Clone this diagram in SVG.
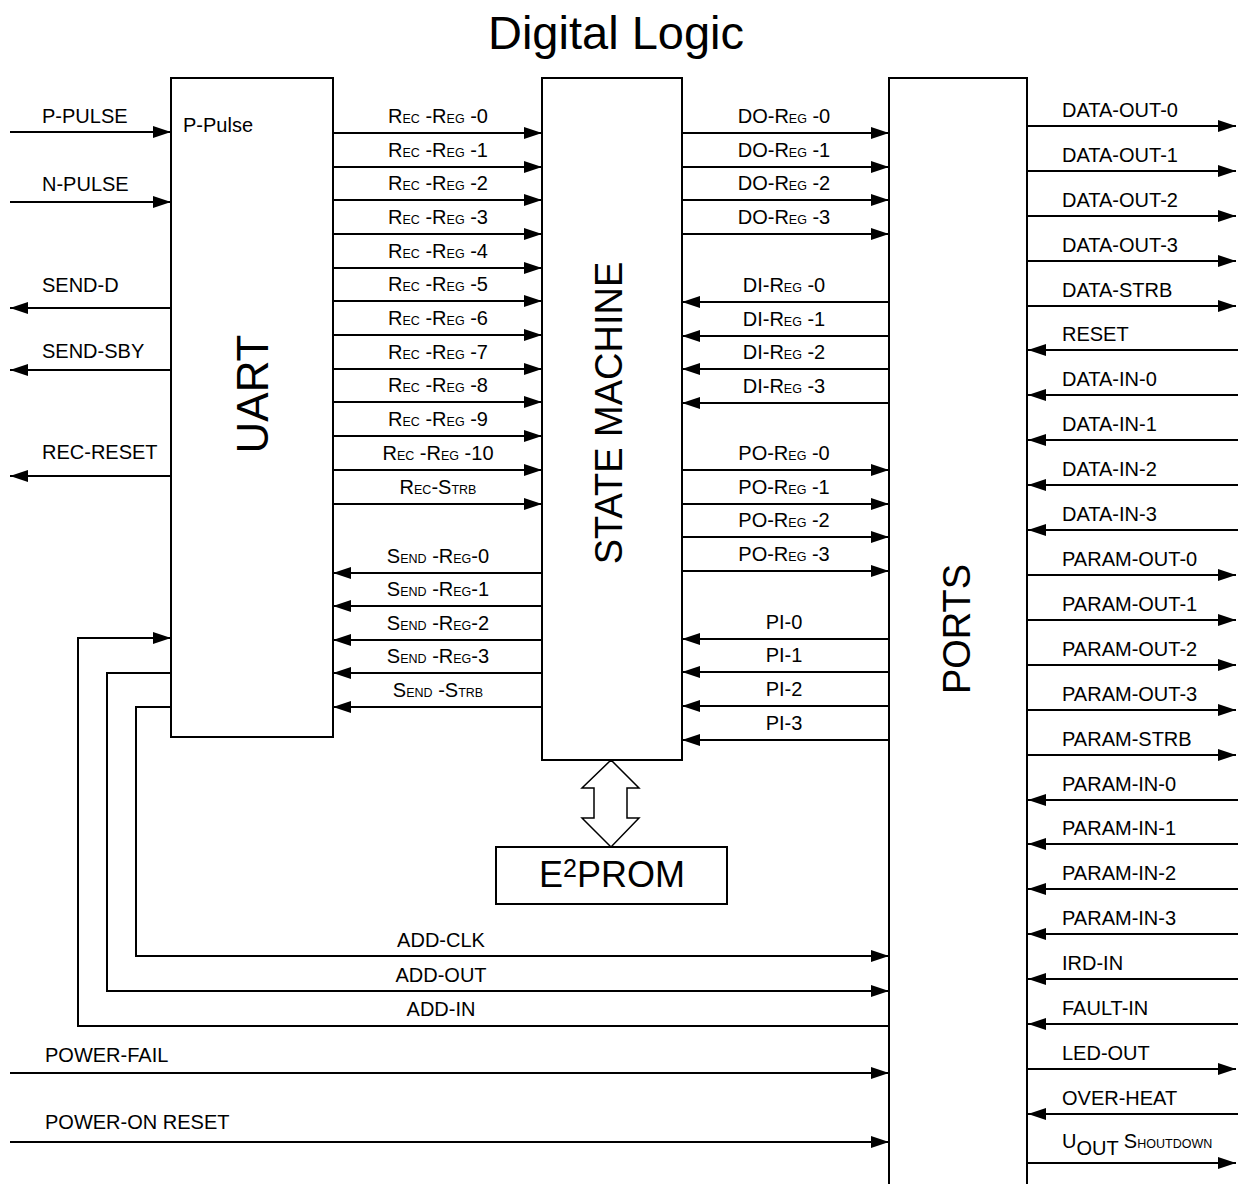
<svg xmlns="http://www.w3.org/2000/svg" width="1238" height="1184" viewBox="0 0 1238 1184">
<style>
text{font-family:"Liberation Sans",Arial,sans-serif;fill:#000}
.l{font-size:20px}
.s{font-size:12.5px}
.c{text-anchor:middle}
.box{fill:#fff;stroke:#000;stroke-width:2}
.w{fill:none;stroke:#000;stroke-width:2}
.a{fill:none;stroke:#000;stroke-width:2;marker-end:url(#ah)}
</style>
<defs>
<marker id="ah" markerUnits="userSpaceOnUse" markerWidth="19" markerHeight="12" refX="18" refY="6" orient="auto"><path d="M0,0 L18,6 L0,12 z" fill="#000"/></marker>
</defs>
<rect width="1238" height="1184" fill="#fff"/>
<text x="616" y="49" class="c" font-size="47">Digital Logic</text>

<g id="connectors">
<!-- UART left -->
<line class="a" x1="10" y1="132" x2="171" y2="132"/>
<line class="a" x1="10" y1="202" x2="171" y2="202"/>
<line class="a" x1="171" y1="308" x2="10" y2="308"/>
<line class="a" x1="171" y1="370" x2="10" y2="370"/>
<line class="a" x1="171" y1="476" x2="10" y2="476"/>
<!-- Rec regs -->
<line class="a" x1="333" y1="133" x2="542" y2="133"/>
<line class="a" x1="333" y1="167" x2="542" y2="167"/>
<line class="a" x1="333" y1="200" x2="542" y2="200"/>
<line class="a" x1="333" y1="234" x2="542" y2="234"/>
<line class="a" x1="333" y1="268" x2="542" y2="268"/>
<line class="a" x1="333" y1="301" x2="542" y2="301"/>
<line class="a" x1="333" y1="335" x2="542" y2="335"/>
<line class="a" x1="333" y1="369" x2="542" y2="369"/>
<line class="a" x1="333" y1="402" x2="542" y2="402"/>
<line class="a" x1="333" y1="436" x2="542" y2="436"/>
<line class="a" x1="333" y1="470" x2="542" y2="470"/>
<line class="a" x1="333" y1="504" x2="542" y2="504"/>
<!-- Send regs -->
<line class="a" x1="542" y1="573" x2="333" y2="573"/>
<line class="a" x1="542" y1="606" x2="333" y2="606"/>
<line class="a" x1="542" y1="640" x2="333" y2="640"/>
<line class="a" x1="542" y1="673" x2="333" y2="673"/>
<line class="a" x1="542" y1="707" x2="333" y2="707"/>
<!-- DO -->
<line class="a" x1="682" y1="133" x2="889" y2="133"/>
<line class="a" x1="682" y1="167" x2="889" y2="167"/>
<line class="a" x1="682" y1="200" x2="889" y2="200"/>
<line class="a" x1="682" y1="234" x2="889" y2="234"/>
<!-- DI -->
<line class="a" x1="889" y1="302" x2="682" y2="302"/>
<line class="a" x1="889" y1="336" x2="682" y2="336"/>
<line class="a" x1="889" y1="369" x2="682" y2="369"/>
<line class="a" x1="889" y1="403" x2="682" y2="403"/>
<!-- PO -->
<line class="a" x1="682" y1="470" x2="889" y2="470"/>
<line class="a" x1="682" y1="504" x2="889" y2="504"/>
<line class="a" x1="682" y1="537" x2="889" y2="537"/>
<line class="a" x1="682" y1="571" x2="889" y2="571"/>
<!-- PI -->
<line class="a" x1="889" y1="639" x2="682" y2="639"/>
<line class="a" x1="889" y1="672" x2="682" y2="672"/>
<line class="a" x1="889" y1="706" x2="682" y2="706"/>
<line class="a" x1="889" y1="740" x2="682" y2="740"/>
<!-- feedback -->
<polyline class="a" points="171,707 136,707 136,956 889,956"/>
<polyline class="a" points="171,673 107,673 107,991 889,991"/>
<polyline class="a" points="889,1026 78,1026 78,638 171,638"/>
<line class="a" x1="10" y1="1073" x2="889" y2="1073"/>
<line class="a" x1="10" y1="1142" x2="889" y2="1142"/>
<!-- right side -->
<line class="a" x1="1027" y1="126" x2="1236" y2="126"/>
<line class="a" x1="1027" y1="171" x2="1236" y2="171"/>
<line class="a" x1="1027" y1="216" x2="1236" y2="216"/>
<line class="a" x1="1027" y1="261" x2="1236" y2="261"/>
<line class="a" x1="1027" y1="306" x2="1236" y2="306"/>
<line class="a" x1="1238" y1="350" x2="1028" y2="350"/>
<line class="a" x1="1238" y1="395" x2="1028" y2="395"/>
<line class="a" x1="1238" y1="440" x2="1028" y2="440"/>
<line class="a" x1="1238" y1="485" x2="1028" y2="485"/>
<line class="a" x1="1238" y1="530" x2="1028" y2="530"/>
<line class="a" x1="1027" y1="575" x2="1236" y2="575"/>
<line class="a" x1="1027" y1="620" x2="1236" y2="620"/>
<line class="a" x1="1027" y1="665" x2="1236" y2="665"/>
<line class="a" x1="1027" y1="710" x2="1236" y2="710"/>
<line class="a" x1="1027" y1="755" x2="1236" y2="755"/>
<line class="a" x1="1238" y1="800" x2="1028" y2="800"/>
<line class="a" x1="1238" y1="844" x2="1028" y2="844"/>
<line class="a" x1="1238" y1="889" x2="1028" y2="889"/>
<line class="a" x1="1238" y1="934" x2="1028" y2="934"/>
<line class="a" x1="1238" y1="979" x2="1028" y2="979"/>
<line class="a" x1="1238" y1="1024" x2="1028" y2="1024"/>
<line class="a" x1="1027" y1="1069" x2="1236" y2="1069"/>
<line class="a" x1="1238" y1="1114" x2="1028" y2="1114"/>
<line class="a" x1="1027" y1="1163" x2="1236" y2="1163"/>
<!-- double arrow -->
<path d="M611,760 L639,788 L627,788 L627,818 L639,818 L611,847 L582,818 L594,818 L594,788 L582,788 Z" fill="#fff" stroke="#000" stroke-width="1.5"/>
</g>

<g id="uart">
<rect class="box" x="171" y="78" width="162" height="659"/>
<text class="l" x="183" y="132">P-Pulse</text>
<text transform="translate(268,394) rotate(-90)" class="c" font-size="44">UART</text>
</g>
<g id="state-machine">
<rect class="box" x="542" y="78" width="140" height="682"/>
<text transform="translate(622,413) rotate(-90)" class="c" font-size="38">STATE MACHINE</text>
</g>
<g id="ports">
<rect class="box" x="889" y="78" width="138" height="1130"/>
<text transform="translate(970,629) rotate(-90)" class="c" font-size="38">PORTS</text>
</g>
<g id="eeprom">
<rect class="box" x="496" y="847" width="231" height="57"/>
<text x="612" y="887" class="c" font-size="36">E<tspan font-size="25" dy="-10">2</tspan><tspan dy="10">PROM</tspan></text>
</g>

<g id="labels" class="l">
<text x="42" y="123">P-PULSE</text>
<text x="42" y="191">N-PULSE</text>
<text x="42" y="292">SEND-D</text>
<text x="42" y="358">SEND-SBY</text>
<text x="42" y="459">REC-RESET</text>

<g class="c">
<text x="438" y="123">R<tspan class="s">EC</tspan> -R<tspan class="s">EG</tspan> -0</text>
<text x="438" y="157">R<tspan class="s">EC</tspan> -R<tspan class="s">EG</tspan> -1</text>
<text x="438" y="190">R<tspan class="s">EC</tspan> -R<tspan class="s">EG</tspan> -2</text>
<text x="438" y="224">R<tspan class="s">EC</tspan> -R<tspan class="s">EG</tspan> -3</text>
<text x="438" y="258">R<tspan class="s">EC</tspan> -R<tspan class="s">EG</tspan> -4</text>
<text x="438" y="291">R<tspan class="s">EC</tspan> -R<tspan class="s">EG</tspan> -5</text>
<text x="438" y="325">R<tspan class="s">EC</tspan> -R<tspan class="s">EG</tspan> -6</text>
<text x="438" y="359">R<tspan class="s">EC</tspan> -R<tspan class="s">EG</tspan> -7</text>
<text x="438" y="392">R<tspan class="s">EC</tspan> -R<tspan class="s">EG</tspan> -8</text>
<text x="438" y="426">R<tspan class="s">EC</tspan> -R<tspan class="s">EG</tspan> -9</text>
<text x="438" y="460">R<tspan class="s">EC</tspan> -R<tspan class="s">EG</tspan> -10</text>
<text x="438" y="494">R<tspan class="s">EC</tspan>-S<tspan class="s">TRB</tspan></text>
<text x="438" y="563">S<tspan class="s">END</tspan> -R<tspan class="s">EG</tspan>-0</text>
<text x="438" y="596">S<tspan class="s">END</tspan> -R<tspan class="s">EG</tspan>-1</text>
<text x="438" y="630">S<tspan class="s">END</tspan> -R<tspan class="s">EG</tspan>-2</text>
<text x="438" y="663">S<tspan class="s">END</tspan> -R<tspan class="s">EG</tspan>-3</text>
<text x="438" y="697">S<tspan class="s">END</tspan> -S<tspan class="s">TRB</tspan></text>

<text x="784" y="123">DO-R<tspan class="s">EG</tspan> -0</text>
<text x="784" y="157">DO-R<tspan class="s">EG</tspan> -1</text>
<text x="784" y="190">DO-R<tspan class="s">EG</tspan> -2</text>
<text x="784" y="224">DO-R<tspan class="s">EG</tspan> -3</text>
<text x="784" y="292">DI-R<tspan class="s">EG</tspan> -0</text>
<text x="784" y="326">DI-R<tspan class="s">EG</tspan> -1</text>
<text x="784" y="359">DI-R<tspan class="s">EG</tspan> -2</text>
<text x="784" y="393">DI-R<tspan class="s">EG</tspan> -3</text>
<text x="784" y="460">PO-R<tspan class="s">EG</tspan> -0</text>
<text x="784" y="494">PO-R<tspan class="s">EG</tspan> -1</text>
<text x="784" y="527">PO-R<tspan class="s">EG</tspan> -2</text>
<text x="784" y="561">PO-R<tspan class="s">EG</tspan> -3</text>
<text x="784" y="629">PI-0</text>
<text x="784" y="662">PI-1</text>
<text x="784" y="696">PI-2</text>
<text x="784" y="730">PI-3</text>

<text x="441" y="947">ADD-CLK</text>
<text x="441" y="982">ADD-OUT</text>
<text x="441" y="1016">ADD-IN</text>
</g>
<text x="45" y="1062">POWER-FAIL</text>
<text x="45" y="1129">POWER-ON RESET</text>

<text x="1062" y="117">DATA-OUT-0</text>
<text x="1062" y="162">DATA-OUT-1</text>
<text x="1062" y="207">DATA-OUT-2</text>
<text x="1062" y="252">DATA-OUT-3</text>
<text x="1062" y="297">DATA-STRB</text>
<text x="1062" y="341">RESET</text>
<text x="1062" y="386">DATA-IN-0</text>
<text x="1062" y="431">DATA-IN-1</text>
<text x="1062" y="476">DATA-IN-2</text>
<text x="1062" y="521">DATA-IN-3</text>
<text x="1062" y="566">PARAM-OUT-0</text>
<text x="1062" y="611">PARAM-OUT-1</text>
<text x="1062" y="656">PARAM-OUT-2</text>
<text x="1062" y="701">PARAM-OUT-3</text>
<text x="1062" y="746">PARAM-STRB</text>
<text x="1062" y="791">PARAM-IN-0</text>
<text x="1062" y="835">PARAM-IN-1</text>
<text x="1062" y="880">PARAM-IN-2</text>
<text x="1062" y="925">PARAM-IN-3</text>
<text x="1062" y="970">IRD-IN</text>
<text x="1062" y="1015">FAULT-IN</text>
<text x="1062" y="1060">LED-OUT</text>
<text x="1062" y="1105">OVER-HEAT</text>
<text x="1062" y="1148">U<tspan dy="7">OUT</tspan><tspan dy="-7"> S</tspan><tspan class="s">HOUTDOWN</tspan></text>
</g>
</svg>
